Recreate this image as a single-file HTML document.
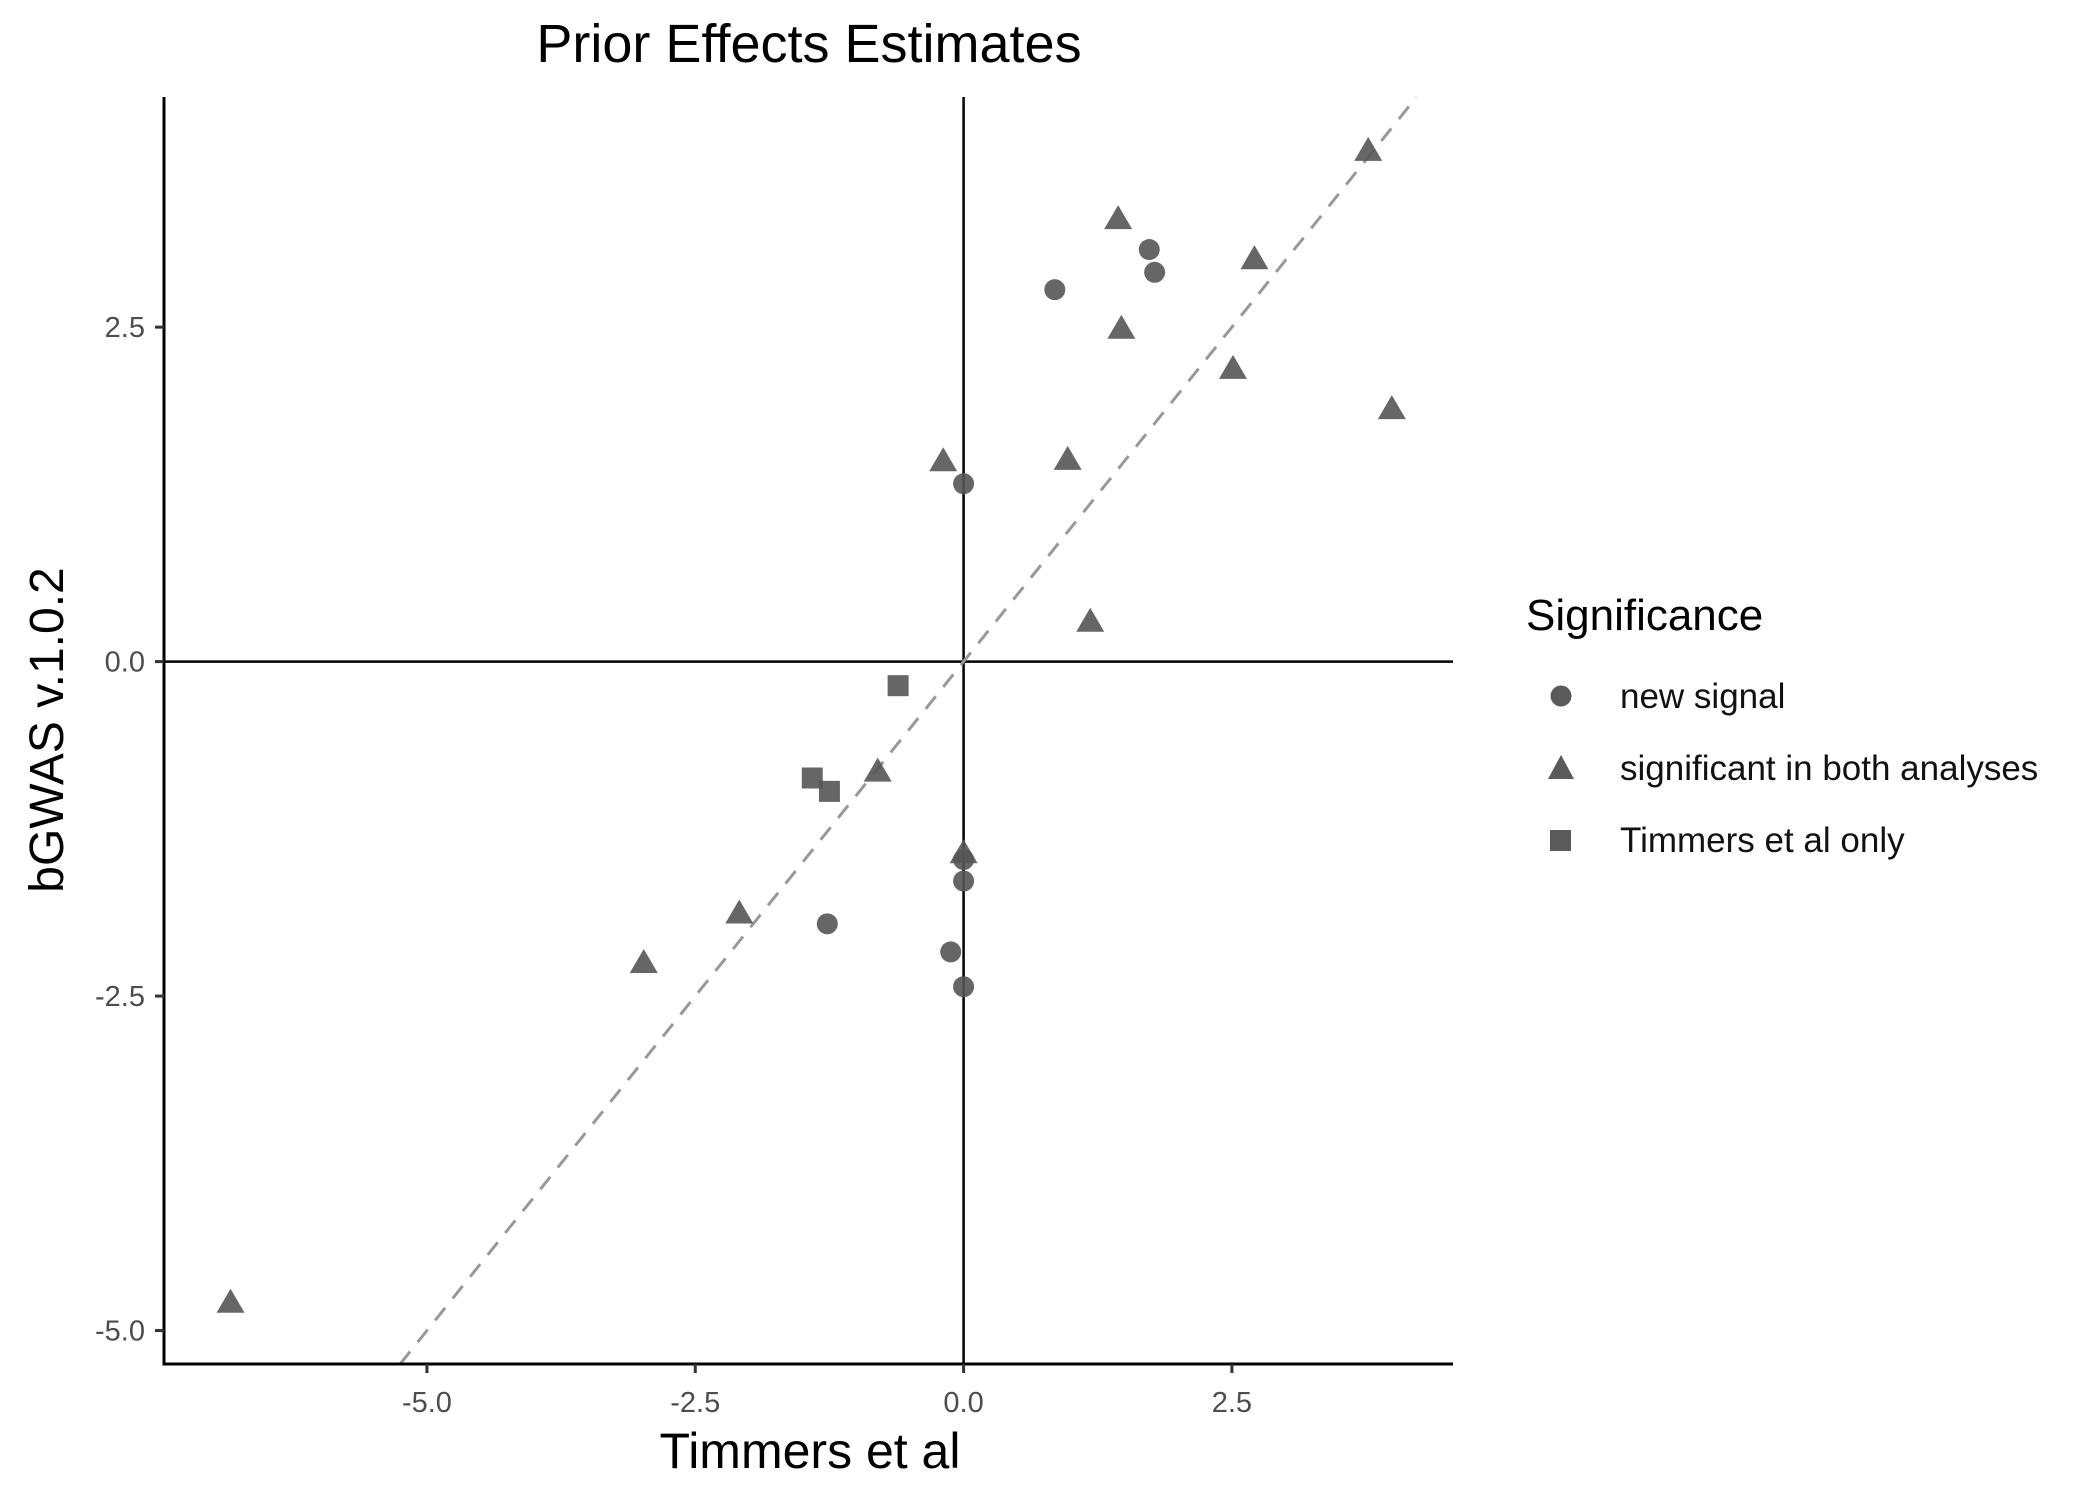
<!DOCTYPE html>
<html><head><meta charset="utf-8"><style>
body{margin:0;background:#fff}
svg{display:block;font-family:"Liberation Sans",Arial,sans-serif}
</style></head><body>
<svg id="chart" width="2100" height="1500" viewBox="0 0 2100 1500">
<text x="809" y="62" font-size="54" text-anchor="middle">Prior Effects Estimates</text>
<g id="plot"></g>
<text x="810" y="1468" font-size="50" text-anchor="middle">Timmers et al</text>
<text transform="translate(63,730) rotate(-90)" font-size="48" text-anchor="middle">bGWAS v.1.0.2</text>
<g>
<text x="1526" y="630" font-size="44">Significance</text>
<circle cx="1561" cy="696" r="10.5" fill="#5a5a5a"/>
<text x="1620" y="708" font-size="35" fill="#111">new signal</text>
<polygon points="1561,755 1574,779 1548,779" fill="#5a5a5a"/>
<text x="1620" y="780" font-size="35" fill="#111">significant in both analyses</text>
<rect x="1550" y="830" width="21" height="21" fill="#5a5a5a"/>
<text x="1620" y="852" font-size="35" fill="#111">Timmers et al only</text>
</g>
</svg>
<script>
const circleX=[0.85,1.73,1.78,0,-1.27,-0.12,0,0,0];
const circleY=[2.78,3.08,2.91,1.33,-1.96,-2.17,-1.64,-2.43,-1.48];
const triX=[1.44,2.71,3.77,1.47,2.51,3.99,-0.19,0.97,1.18,-0.8,0,-2.09,-2.98,-6.83];
const triY=[3.3,3.0,3.81,2.48,2.18,1.88,1.49,1.5,0.29,-0.83,-1.44,-1.89,-2.26,-4.8];
const sqX=[-0.61,-1.41,-1.25];
const sqY=[-0.18,-0.87,-0.97];
const xTicks=[-5.0,-2.5,0.0,2.5];
const yTicks=[-5.0,-2.5,0.0,2.5];
const xTickLabels=["-5.0","-2.5","0.0","2.5"];
const yTickLabels=["-5.0","-2.5","0.0","2.5"];

const L=164,R=1453,T=97,B=1364;
const xMin=-7.45,xMax=4.56,yMin=-5.25,yMax=4.22;
const sx=v=>L+(v-xMin)/(xMax-xMin)*(R-L);
const sy=v=>B-(v-yMin)/(yMax-yMin)*(B-T);
const NS="http://www.w3.org/2000/svg";
const g=document.getElementById('plot');
function mk(tag,attrs){const e=document.createElementNS(NS,tag);for(const k in attrs)e.setAttribute(k,attrs[k]);g.appendChild(e);return e;}

let e;
e=mk('line',{x1:sx(0),x2:sx(0),y1:T,y2:B,stroke:'#000','stroke-width':2.5});


e=mk('line',{x1:L,x2:R,y1:sy(0),y2:sy(0),stroke:'#000','stroke-width':2.5});


const lo=Math.max(xMin,yMin),hi=Math.min(xMax,yMax);
e=mk('line',{x1:sx(lo),y1:sy(lo),x2:sx(hi),y2:sy(hi),stroke:'#999','stroke-width':3,'stroke-dasharray':'16,12'});



e=mk('line',{x1:L,x2:L,y1:T,y2:B+1.5,stroke:'#000','stroke-width':3});


e=mk('line',{x1:L-1.5,x2:R,y1:B,y2:B,stroke:'#000','stroke-width':3});



xTicks.forEach((v,i)=>{
  const t=mk('line',{x1:sx(v),x2:sx(v),y1:B,y2:B+9,stroke:'#333','stroke-width':3});
  
  
  const l=mk('text',{x:sx(v),y:B+48,'font-size':29,'text-anchor':'middle',fill:'#4d4d4d'});
  l.textContent=xTickLabels[i];
  
  
});
yTicks.forEach((v,i)=>{
  const t=mk('line',{x1:L-9,x2:L,y1:sy(v),y2:sy(v),stroke:'#333','stroke-width':3});
  
  
  const l=mk('text',{x:L-19,y:sy(v)+10,'font-size':29,'text-anchor':'end',fill:'#4d4d4d'});
  l.textContent=yTickLabels[i];
  
  
});

const fill='#555',op=0.9;
circleX.forEach((v,i)=>{
  const c=mk('circle',{cx:sx(v),cy:sy(circleY[i]),r:10.5,fill:fill,'fill-opacity':op});
  
  
});
triX.forEach((v,i)=>{
  const x=sx(v),y=sy(triY[i]);
  const p=mk('polygon',{points:`${x},${y-15} ${x+14},${y+9} ${x-14},${y+9}`,fill:fill,'fill-opacity':op});
  
  
});
sqX.forEach((v,i)=>{
  const r=mk('rect',{x:sx(v)-10.5,y:sy(sqY[i])-10.5,width:21,height:21,fill:fill,'fill-opacity':op});
  
  
});
</script>
</body></html>
